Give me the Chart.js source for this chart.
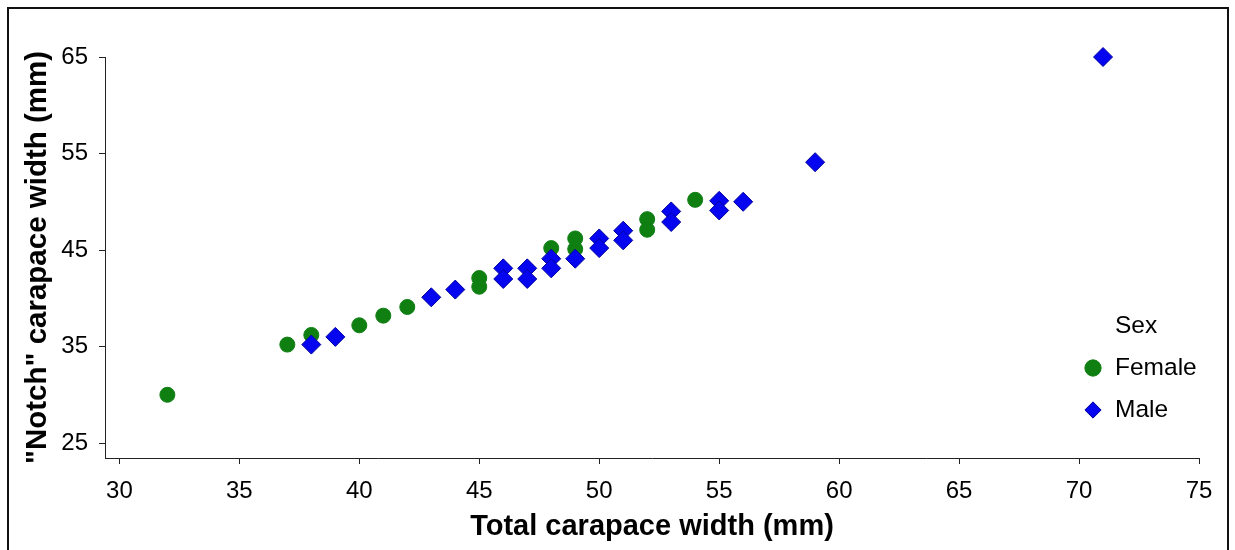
<!DOCTYPE html>
<html>
<head>
<meta charset="utf-8">
<script src="https://cdn.jsdelivr.net/npm/chart.js@4.4.1/dist/chart.umd.min.js"></script>
<style>
  html, body { margin: 0; padding: 0; background: #fff; }
  #wrap { width: 1235px; height: 550px; position: relative; }
</style>
</head>
<body>
<div id="wrap"><canvas id="chart"></canvas></div>
<script>
// values
const femaleX = [32, 37, 38, 40, 41, 42, 45, 45, 48, 49, 49, 52, 52, 54];
const femaleY = [30, 35.2, 36.2, 37.2, 38.2, 39.1, 42.1, 41.2, 45.2, 46.2, 45.1, 48.2, 47.1, 50.2];
const maleX = [38, 39, 43, 44, 46, 46, 47, 47, 48, 48, 49, 50, 50, 51, 51, 53, 53, 55, 55, 56, 59, 71];
const maleY = [35.2, 36, 40.1, 40.9, 43.1, 42, 43.1, 42, 44.1, 43.1, 44.1, 46.2, 45.2, 47, 46, 49, 47.9, 50.1, 49.1, 50, 54.1, 65];
const xTicks = [30, 35, 40, 45, 50, 55, 60, 65, 70, 75];
const yTicks = [25, 35, 45, 55, 65];

const toPoints = (xs, ys) => xs.map((x, i) => ({ x: x, y: ys[i] }));

const FONT = "'Liberation Sans', Arial, sans-serif";

// outer frame round the figure
const framePlugin = {
    id: 'frame',
    afterDraw(chart) {
        const ctx = chart.ctx;
        ctx.save();
        ctx.strokeStyle = '#111';
        ctx.lineWidth = 2;
        ctx.strokeRect(8, 8, 1220, 600);
        ctx.restore();
    }
};

// move the legend to the lower right inside the plot
const legendPlacer = {
    id: 'legendPlacer',
    afterLayout(chart) {
        const lg = chart.legend;
        if (!lg) return;
        lg.left = 1065.75;
        lg.width = 140.7;
        lg.top = 313.75;
        lg.bottom = 500;
        lg.height = 186;
    }
};

new Chart(document.getElementById('chart'), {
    type: 'scatter',
    data: {
        datasets: [
            {
                label: 'Female',
                data: toPoints(femaleX, femaleY),
                pointStyle: 'circle',
                backgroundColor: '#0f7f12',
                borderColor: '#0f7f12',
                borderWidth: 1,
                pointRadius: 7.5,
                pointHoverRadius: 7.5,
                clip: false,
                order: 1
            },
            {
                label: 'Male',
                data: toPoints(maleX, maleY),
                pointStyle: 'rectRot',
                backgroundColor: '#0505f0',
                borderColor: '#0000a0',
                borderWidth: 1,
                pointRadius: 9.5,
                pointHoverRadius: 9.5,
                clip: false,
                order: 0
            }
        ]
    },
    options: {
        responsive: true,
        maintainAspectRatio: false,
        animation: false,
        layout: { padding: { top: 57, right: 36, bottom: 0, left: 0 } },
        scales: {
            x: {
                type: 'linear',
                min: 29.4,
                max: 75,
                afterBuildTicks: axis => { axis.ticks = xTicks.map(v => ({ value: v })); },
                afterFit: s => { s.height = 92; },
                grid: { display: true, drawOnChartArea: false, drawTicks: true, tickLength: 6, color: '#222', lineWidth: 1 },
                border: { display: true, color: '#222', width: 1 },
                ticks: { color: '#000', font: { family: FONT, size: 24 }, padding: 13, maxRotation: 0 },
                title: {
                    display: true,
                    text: 'Total carapace width (mm)',
                    color: '#000',
                    font: { family: FONT, size: 29, weight: 'bold' },
                    padding: { top: 0, bottom: 6 }
                }
            },
            y: {
                type: 'linear',
                min: 23.45,
                max: 65,
                afterBuildTicks: axis => { axis.ticks = yTicks.map(v => ({ value: v })); },
                afterFit: s => { s.width = 105; },
                grid: { display: true, drawOnChartArea: false, drawTicks: true, tickLength: 6, color: '#222', lineWidth: 1 },
                border: { display: true, color: '#222', width: 1 },
                ticks: { color: '#000', font: { family: FONT, size: 24 }, padding: 11 },
                title: {
                    display: true,
                    text: '"Notch" carapace width (mm)',
                    color: '#000',
                    font: { family: FONT, size: 29.5, weight: 'bold' },
                    padding: { top: 20, bottom: 0 }
                }
            }
        },
        plugins: {
            legend: {
                position: 'chartArea',
                align: 'start',
                title: {
                    display: true,
                    text: 'Sex',
                    color: '#000',
                    font: { family: FONT, size: 24.5, lineHeight: 1.0 },
                    padding: 0
                },
                labels: {
                    usePointStyle: true,
                    boxHeight: 11.5,
                    boxWidth: 19.5,
                    padding: 17.5,
                    color: '#000',
                    font: { family: FONT, size: 24.5 },
                    sort: (a, b) => a.datasetIndex - b.datasetIndex
                }
            },
            tooltip: { enabled: false }
        }
    },
    plugins: [framePlugin, legendPlacer]
});
</script>
</body>
</html>
